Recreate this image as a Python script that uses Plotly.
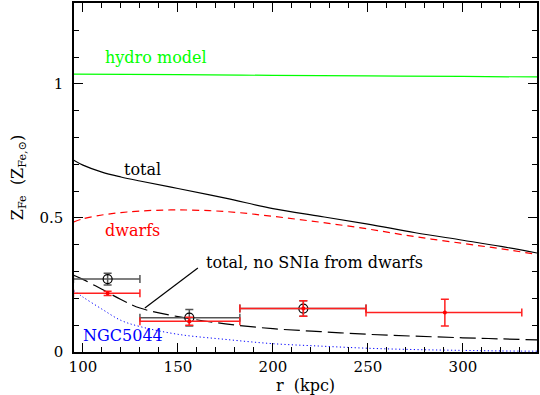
import plotly.graph_objects as go

# ---- data ----
r_grid = [95, 100, 110, 120, 130, 150, 175, 200, 225, 250, 275, 300, 320, 340]
z_total = [0.716, 0.697, 0.671, 0.653, 0.638, 0.610, 0.574, 0.535, 0.506, 0.477, 0.445, 0.417, 0.394, 0.368]
z_dwarfs = [0.485, 0.497, 0.511, 0.520, 0.526, 0.530, 0.524, 0.506, 0.484, 0.459, 0.430, 0.405, 0.385, 0.363]
z_nosnia = [0.287, 0.271, 0.234, 0.196, 0.164, 0.132, 0.105, 0.087, 0.076, 0.066, 0.059, 0.053, 0.049, 0.045]
z_ngc = [0.230, 0.205, 0.160, 0.118, 0.095, 0.066, 0.047, 0.031, 0.022, 0.014, 0.009, 0.006, 0.004, 0.003]
r_hydro = [95, 150, 200, 250, 300, 340]
z_hydro = [1.037, 1.035, 1.032, 1.030, 1.028, 1.026]

# observed points (black circles, grey bars)
obs_r = [113, 156, 216]
obs_z = [0.272, 0.128, 0.162]
obs_rlo = [95, 130, 182.6]
obs_rhi = [130, 182.6, 249]
obs_zerr = [0.022, 0.031, 0.029]

# red points
red_r = [113, 156, 216, 290.5]
red_z = [0.219, 0.115, 0.162, 0.147]
red_rlo = [95, 130, 182.6, 249]
red_rhi = [130, 182.6, 249, 331]
red_zerr = [0.008, 0.015, 0.029, 0.05]

FONT = "DejaVu Serif"
FS = 16
TFS = 15

fig = go.Figure()

fig.add_trace(go.Scatter(x=r_hydro, y=z_hydro, mode="lines",
                         line=dict(color="#00ff00", width=1.2, shape="spline")))
fig.add_trace(go.Scatter(x=r_grid, y=z_total, mode="lines",
                         line=dict(color="black", width=1.2, shape="spline")))
fig.add_trace(go.Scatter(x=r_grid, y=z_dwarfs, mode="lines",
                         line=dict(color="#ff0000", width=1.2, shape="spline", dash="7px,5px")))
fig.add_trace(go.Scatter(x=r_grid, y=z_nosnia, mode="lines",
                         line=dict(color="black", width=1.2, shape="spline", dash="16px,6px")))
fig.add_trace(go.Scatter(x=r_grid, y=z_ngc, mode="lines",
                         line=dict(color="#0000ff", width=1.0, shape="spline", dash="1.2px,2.5px")))

fig.add_trace(go.Scatter(
    x=obs_r, y=obs_z, mode="markers",
    marker=dict(symbol="circle-open", size=9, color="black", line=dict(width=1.2)),
    error_x=dict(type="data", symmetric=False,
                 array=[h - r for h, r in zip(obs_rhi, obs_r)],
                 arrayminus=[r - l for l, r in zip(obs_rlo, obs_r)],
                 color="#555555", thickness=1.5, width=4),
    error_y=dict(type="data", array=obs_zerr, color="#555555", thickness=1.5, width=4),
))
fig.add_trace(go.Scatter(
    x=red_r, y=red_z, mode="markers",
    marker=dict(symbol="circle", size=4, color="#ff0000"),
    error_x=dict(type="data", symmetric=False,
                 array=[h - r for h, r in zip(red_rhi, red_r)],
                 arrayminus=[r - l for l, r in zip(red_rlo, red_r)],
                 color="#ff2020", thickness=1.5, width=4),
    error_y=dict(type="data", array=red_zerr, color="#ff2020", thickness=1.5, width=4),
))

labels = [
    ("hydro model", 110.5, 1.10, "#00ff00"),
    ("total", 120.5, 0.679, "black"),
    ("dwarfs", 110.5, 0.455, "#ff0000"),
    ("NGC5044", 99, 0.063, "#0000ff"),
    ("total, no SNIa from dwarfs", 163.7, 0.335, "black"),
]
for txt, x, y, c in labels:
    fig.add_annotation(x=x, y=y, text=txt, showarrow=False, xanchor="left", yanchor="middle",
                       font=dict(family=FONT, size=FS, color=c))

fig.add_shape(type="line", x0=160.5, y0=0.313, x1=132.6, y1=0.164,
              line=dict(color="black", width=1.2))

axis_common = dict(showline=True, linecolor="black", linewidth=1.5, mirror="allticks",
                   ticks="inside", tickcolor="black", showgrid=False, zeroline=False,
                   automargin=False,
                   tickfont=dict(family=FONT, size=TFS, color="black"))

fig.update_xaxes(range=[95.3, 339], dtick=50, tick0=0, ticklen=9, tickwidth=1,
                 minor=dict(dtick=10, ticklen=5, ticks="inside", tickcolor="black", showgrid=False),
                 title=dict(text="r  (kpc)", font=dict(family=FONT, size=FS, color="black"), standoff=2),
                 **axis_common)
fig.update_yaxes(range=[0, 1.302], dtick=0.5, tick0=0, ticklen=9, tickwidth=1,
                 ticklabelstandoff=6,
                 minor=dict(dtick=0.1, ticklen=5, ticks="inside", tickcolor="black", showgrid=False),
                 title=dict(text="Z<sub>Fe</sub>  (Z<sub>Fe,⊙</sub>)", font=dict(family=FONT, size=FS, color="black"), standoff=12),
                 **axis_common)

fig.update_layout(width=540, height=395, showlegend=False,
                  plot_bgcolor="white", paper_bgcolor="white",
                  margin=dict(l=74, r=3, t=3, b=43))

fig.write_html("out.html", config={"displayModeBar": False},
               post_script="document.body.style.margin='0px';")
